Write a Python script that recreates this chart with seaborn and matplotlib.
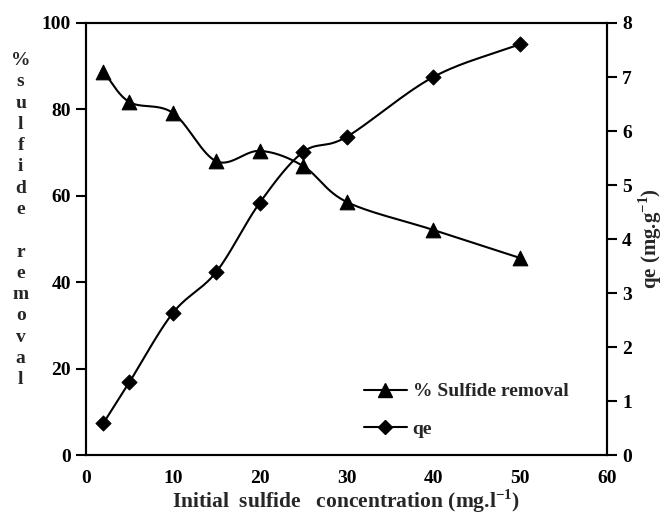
import numpy as np
import pandas as pd
import matplotlib
matplotlib.use("Agg")
import matplotlib.pyplot as plt
import seaborn as sns
from matplotlib.lines import Line2D

# ---- data ----
concentration = [2, 5, 10, 15, 20, 25, 30, 40, 50]
removal_pct = [88.7, 81.7, 79.2, 68.0, 70.4, 66.9, 58.6, 52.1, 45.6]
qe_values = [0.59, 1.35, 2.63, 3.39, 4.67, 5.61, 5.89, 7.0, 7.61]
x_ticks = [0, 10, 20, 30, 40, 50, 60]
left_ticks = [0, 20, 40, 60, 80, 100]
right_ticks = [0, 1, 2, 3, 4, 5, 6, 7, 8]

sns.set_theme(style="white")
plt.rcParams['font.family'] = ['Liberation Serif', 'DejaVu Serif']
plt.rcParams['font.weight'] = 'bold'
plt.rcParams['mathtext.fontset'] = 'custom'
plt.rcParams['mathtext.rm'] = 'Liberation Serif:bold'
plt.rcParams['mathtext.bf'] = 'Liberation Serif:bold'


def catmull_rom(x, y, n=30):
    x = np.asarray(x, float)
    y = np.asarray(y, float)
    P = np.column_stack([x, y])
    P = np.vstack([2 * P[0] - P[1], P, 2 * P[-1] - P[-2]])
    out = []
    t = np.linspace(0, 1, n, endpoint=False)[:, None]
    for i in range(1, len(P) - 2):
        p0, p1, p2, p3 = P[i - 1], P[i], P[i + 1], P[i + 2]
        seg = 0.5 * ((2 * p1) + (-p0 + p2) * t + (2 * p0 - 5 * p1 + 4 * p2 - p3) * t ** 2
                     + (-p0 + 3 * p1 - 3 * p2 + p3) * t ** 3)
        out.append(seg)
    out.append(P[-2][None, :])
    out = np.vstack(out)
    return out[:, 0], out[:, 1]


fig = plt.figure(figsize=(6.67, 5.18), dpi=100)
ax = fig.add_axes([0.129, 0.1216, 0.781, 0.834])
ax2 = ax.twinx()

sx, sy = catmull_rom(concentration, removal_pct)
df1 = pd.DataFrame({"x": sx, "y": sy})
sns.lineplot(data=df1, x="x", y="y", ax=ax, color="black", lw=1.5, sort=False, estimator=None)
pts1 = pd.DataFrame({"x": concentration, "y": removal_pct})
sns.scatterplot(data=pts1, x="x", y="y", ax=ax, marker="^", s=110, color="black",
                edgecolor="black", zorder=5)

qx, qy = catmull_rom(concentration, qe_values)
df2 = pd.DataFrame({"x": qx, "y": qy})
sns.lineplot(data=df2, x="x", y="y", ax=ax2, color="black", lw=1.5, sort=False, estimator=None)
pts2 = pd.DataFrame({"x": concentration, "y": qe_values})
sns.scatterplot(data=pts2, x="x", y="y", ax=ax2, marker="D", s=60, color="black",
                edgecolor="black", zorder=5)

ax.set_xlim(0, 60)
ax.set_ylim(0, 100)
ax2.set_ylim(0, 8)
ax.set_xticks(x_ticks)
ax.set_yticks(left_ticks)
ax2.set_yticks(right_ticks)

for a in (ax, ax2):
    for sp in a.spines.values():
        sp.set_color("black")
        sp.set_linewidth(1.5)
    a.tick_params(direction="out", length=7, width=1.5, colors="black", labelsize=14,
                  pad=4)
for lab in ax.get_xticklabels() + ax.get_yticklabels() + ax2.get_yticklabels():
    lab.set_fontweight("bold")

ax.set_xlabel("Initial  sulfide   concentration (mg.l$^{-1}$)", fontsize=15.5,
              fontweight="bold", labelpad=0)
ax.set_ylabel("")
ax2.set_ylabel("qe (mg.g$^{-1}$)", fontsize=15, fontweight="bold", labelpad=3)

vert = "%\ns\nu\nl\nf\ni\nd\ne\n\nr\ne\nm\no\nv\na\nl"
fig.text(0.031, 0.575, vert, fontsize=14, fontweight="bold", ha="center", va="center",
         linespacing=1.33)

handles = [
    Line2D([], [], color="black", lw=1.5, marker="^", markersize=10),
    Line2D([], [], color="black", lw=1.5, marker="D", markersize=7),
]
ax.legend(handles, ["% Sulfide removal", "qe"], loc="lower left",
          bbox_to_anchor=(0.5, 0.0), frameon=False, prop={"weight": "bold", "size": 14},
          handlelength=2.2, handletextpad=0.3, labelspacing=1.0)

fig.savefig("out.png", dpi=100)
